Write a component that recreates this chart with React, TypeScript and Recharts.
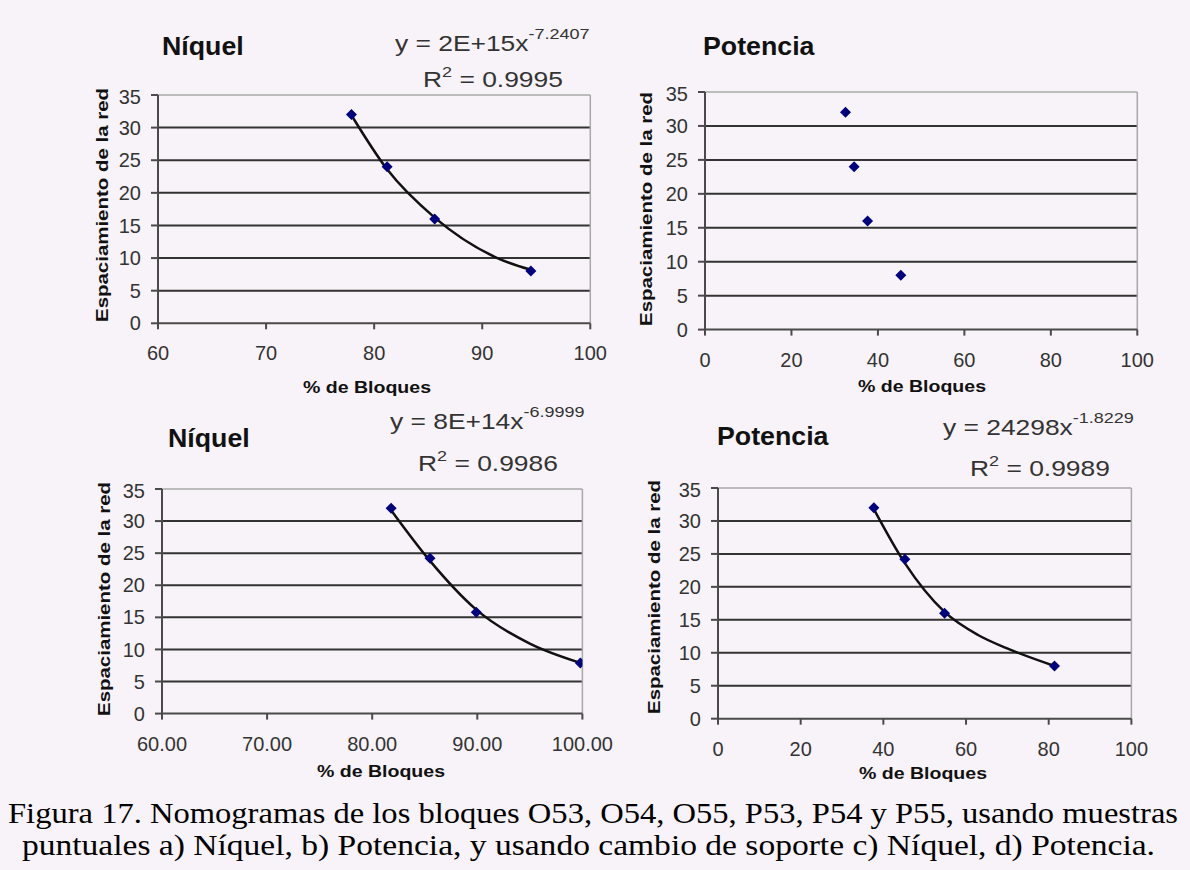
import React from 'react';
import {
    ComposedChart,
    Scatter,
    Line,
    XAxis,
    YAxis,
    CartesianGrid,
    ReferenceLine
} from 'recharts';

// a) Níquel, muestras puntuales
const niquelA = [
    { x: 77.9, y: 32 },
    { x: 81.2, y: 24 },
    { x: 85.6, y: 16 },
    { x: 94.5, y: 8 }
];
const niquelATrend = [
    { x: 77.9, y: 31.9 },
    { x: 81.2, y: 23.6 },
    { x: 85.6, y: 16.2 },
    { x: 91.4, y: 10.0 },
    { x: 94.5, y: 8.2 }
];

// b) Potencia, muestras puntuales (sin línea de tendencia)
const potenciaB = [
    { x: 32.5, y: 32 },
    { x: 34.5, y: 24 },
    { x: 37.6, y: 16 },
    { x: 45.3, y: 8 }
];

// c) Níquel, cambio de soporte
const niquelC = [
    { x: 81.8, y: 32 },
    { x: 85.5, y: 24.2 },
    { x: 89.9, y: 15.8 },
    { x: 99.8, y: 7.9 }
];
const niquelCTrend = [
    { x: 81.8, y: 31.7 },
    { x: 85.5, y: 23.8 },
    { x: 89.9, y: 16.2 },
    { x: 95.0, y: 10.9 },
    { x: 99.8, y: 7.9 }
];

// d) Potencia, cambio de soporte
const potenciaD = [
    { x: 37.7, y: 32 },
    { x: 45.2, y: 24.2 },
    { x: 54.8, y: 16 },
    { x: 81.4, y: 8 }
];
const potenciaDTrend = [
    { x: 37.7, y: 31.8 },
    { x: 45.2, y: 23.6 },
    { x: 54.8, y: 16.2 },
    { x: 62.9, y: 12.7 },
    { x: 69.8, y: 10.7 },
    { x: 81.4, y: 8.0 }
];

const yTicks = [0, 5, 10, 15, 20, 25, 30, 35];
const gridValues = [5, 10, 15, 20, 25, 30];
const niquelTicks = [60, 70, 80, 90, 100];
const potenciaTicks = [0, 20, 40, 60, 80, 100];

const yLabel = 'Espaciamiento de la red';
const xLabel = '% de Bloques';
const caption1 = 'Figura 17. Nomogramas de los bloques O53, O54, O55, P53, P54 y P55, usando muestras';
const caption2 = 'puntuales a) Níquel, b) Potencia, y usando cambio de soporte c) Níquel, d) Potencia.';

const SANS = '"Liberation Sans", Arial, sans-serif';
const BG = '#f8f3f8';

const Diamond = (props: any) => {
    const { cx, cy } = props;
    if (cx == null || cy == null) return null;
    const r = 5.5;
    return <path d={`M${cx},${cy - r}L${cx + r},${cy}L${cx},${cy + r}L${cx - r},${cy}Z`} fill="#00007f" />;
};

interface Box { L: number; T: number; R: number; B: number; }

const Panel = ({ box, domain, ticks, fixed, points, trend }: {
    box: Box; domain: [number, number]; ticks: number[]; fixed?: boolean; points: any[]; trend?: any[];
}) => {
    const yw = 70, mt = 10, mr = 40, xh = 50;
    const w = box.R - box.L + yw + mr;
    const h = box.B - box.T + mt + xh;
    return (
        <div style={{ position: 'absolute', left: box.L - yw, top: box.T - mt }}>
            <ComposedChart width={w} height={h} margin={{ top: mt, right: mr, bottom: 0, left: 0 }}>
                <CartesianGrid vertical={false} horizontalValues={gridValues} stroke="#333" strokeWidth={2} />
                <ReferenceLine y={35} stroke="#a8a8a8" strokeWidth={1.5} />
                <ReferenceLine x={domain[1]} stroke="#a8a8a8" strokeWidth={1.5} />
                <XAxis
                    type="number"
                    dataKey="x"
                    domain={domain}
                    ticks={ticks}
                    allowDataOverflow
                    height={xh}
                    stroke="#4a4a4a"
                    strokeWidth={2}
                    tickSize={6}
                    tickMargin={17}
                    tick={{ fill: '#333', fontSize: 20, fontFamily: SANS }}
                    tickFormatter={(v) => (fixed ? v.toFixed(2) : String(v))}
                />
                <YAxis
                    type="number"
                    dataKey="y"
                    domain={[0, 35]}
                    ticks={yTicks}
                    allowDataOverflow
                    width={yw}
                    stroke="#4a4a4a"
                    strokeWidth={2}
                    tickSize={7}
                    tickMargin={10}
                    tick={{ fill: '#333', fontSize: 20, fontFamily: SANS }}
                />
                {trend && (
                    <Line
                        data={trend}
                        dataKey="y"
                        type="monotone"
                        stroke="#111"
                        strokeWidth={2.5}
                        dot={false}
                        isAnimationActive={false}
                    />
                )}
                <Scatter data={points} shape={Diamond} isAnimationActive={false} />
            </ComposedChart>
        </div>
    );
};

const Title = ({ x, y, text }: { x: number; y: number; text: string }) => (
    <g transform={`translate(${x},${y}) scale(1.07,1)`}>
        <text fontFamily={SANS} fontWeight="bold" fontSize={25} fill="#111">{text}</text>
    </g>
);

const Equation = ({ x, y, coef, exp }: { x: number; y: number; coef: string; exp: string }) => (
    <g transform={`translate(${x},${y}) scale(1.2,1)`}>
        <text fontFamily={SANS} fontSize={22} fill="#333">
            {coef}
            <tspan dy={-12} fontSize={15}>{exp}</tspan>
        </text>
    </g>
);

const R2 = ({ x, y, value }: { x: number; y: number; value: string }) => (
    <g transform={`translate(${x},${y}) scale(1.2,1)`}>
        <text fontFamily={SANS} fontSize={22} fill="#333">
            R<tspan dy={-10} fontSize={15}>2</tspan><tspan dy={10}>{` = ${value}`}</tspan>
        </text>
    </g>
);

const YTitle = ({ x, y }: { x: number; y: number }) => (
    <text
        transform={`translate(${x},${y}) rotate(-90)`}
        textAnchor="middle"
        fontFamily={SANS}
        fontWeight="bold"
        fontSize={17}
        fill="#111"
        textLength={234}
        lengthAdjust="spacingAndGlyphs"
    >
        {yLabel}
    </text>
);

const XTitle = ({ x, y }: { x: number; y: number }) => (
    <text
        x={x}
        y={y}
        textAnchor="middle"
        fontFamily={SANS}
        fontWeight="bold"
        fontSize={17}
        fill="#111"
        textLength={128}
        lengthAdjust="spacingAndGlyphs"
    >
        {xLabel}
    </text>
);

export default function App() {
    return (
        <div style={{ position: 'absolute', left: 0, top: 0, width: 1190, height: 870, background: BG, overflow: 'hidden' }}>
            <Panel box={{ L: 157.7, T: 95, R: 590, B: 323.3 }} domain={[60, 100]} ticks={niquelTicks} points={niquelA} trend={niquelATrend} />
            <Panel box={{ L: 705, T: 91.7, R: 1137.3, B: 329.3 }} domain={[0, 100]} ticks={potenciaTicks} points={potenciaB} />
            <Panel box={{ L: 162.3, T: 488.7, R: 582.7, B: 713.3 }} domain={[60, 100]} ticks={niquelTicks} fixed points={niquelC} trend={niquelCTrend} />
            <Panel box={{ L: 718.3, T: 488.3, R: 1131.7, B: 719 }} domain={[0, 100]} ticks={potenciaTicks} points={potenciaD} trend={potenciaDTrend} />

            <svg width={1190} height={870} style={{ position: 'absolute', left: 0, top: 0, pointerEvents: 'none' }}>
                {/* a) */}
                <Title x={162} y={55} text="Níquel" />
                <Equation x={395} y={51} coef="y = 2E+15x" exp="-7.2407" />
                <R2 x={423} y={87} value="0.9995" />
                <YTitle x={108} y={205} />
                <XTitle x={367} y={393} />

                {/* b) */}
                <Title x={703} y={55} text="Potencia" />
                <YTitle x={652} y={209} />
                <XTitle x={922} y={392} />

                {/* c) */}
                <Title x={168} y={447} text="Níquel" />
                <Equation x={390} y={429} coef="y = 8E+14x" exp="-6.9999" />
                <R2 x={418} y={471} value="0.9986" />
                <YTitle x={110} y={599} />
                <XTitle x={381} y={777} />

                {/* d) */}
                <Title x={717} y={445} text="Potencia" />
                <Equation x={943} y={435} coef="y = 24298x" exp="-1.8229" />
                <R2 x={970} y={476} value="0.9989" />
                <YTitle x={660} y={597} />
                <XTitle x={923} y={779} />

                <text x={8} y={823} fontFamily='"Liberation Serif", "Times New Roman", serif' fontSize={29} fill="#000" textLength={1170} lengthAdjust="spacingAndGlyphs">
                    {caption1}
                </text>
                <text x={22} y={855} fontFamily='"Liberation Serif", "Times New Roman", serif' fontSize={29} fill="#000" textLength={1133} lengthAdjust="spacingAndGlyphs">
                    {caption2}
                </text>
            </svg>
        </div>
    );
}
